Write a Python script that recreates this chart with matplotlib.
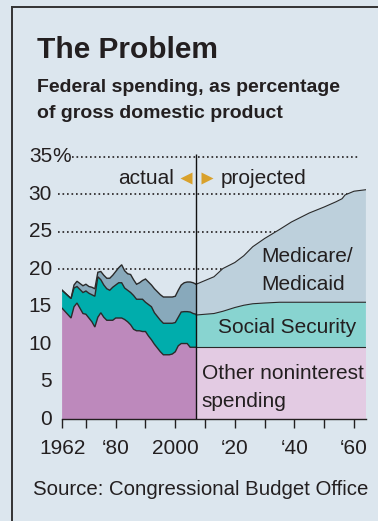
import matplotlib
matplotlib.use("Agg")
import matplotlib.pyplot as plt
import numpy as np
from matplotlib.lines import Line2D

plt.rcParams['font.family'] = ['Liberation Sans', 'DejaVu Sans']

# ---------------- data ----------------
actual_years = [1962, 1965, 1966, 1967, 1968, 1969, 1970, 1971, 1972, 1973, 1974,
                1975, 1976, 1977, 1978, 1979, 1980, 1981, 1982, 1983, 1984, 1985,
                1986, 1987, 1988, 1989, 1990, 1991, 1992, 1993, 1994, 1995, 1996,
                1997, 1998, 1999, 2000, 2001, 2002, 2003, 2004, 2005, 2006, 2007]
actual_other = [14.8, 13.5, 15.0, 15.5, 14.8, 14.1, 14.0, 13.5, 13.0, 12.3, 13.6,
                14.2, 13.6, 13.2, 13.2, 13.2, 13.5, 13.5, 13.5, 13.3, 13.0, 12.6,
                12.0, 11.8, 11.8, 11.7, 11.7, 11.1, 10.6, 10.0, 9.5, 9.0, 8.6,
                8.6, 8.6, 8.7, 9.0, 9.8, 10.1, 10.1, 10.1, 9.6, 9.6, 9.6]
actual_ss = [2.4, 2.6, 2.5, 2.2, 2.5, 2.8, 3.1, 3.3, 3.6, 4.1, 5.4,
             4.4, 4.3, 4.2, 4.0, 4.4, 4.4, 4.7, 4.7, 4.2, 4.2, 4.3,
             4.5, 4.2, 4.2, 4.3, 3.9, 4.2, 4.4, 4.2, 4.2, 4.2, 4.2,
             4.2, 4.2, 4.1, 3.9, 3.8, 4.2, 4.25, 4.25, 4.7, 4.5, 4.4]
actual_health = [0.0, 0.0, 0.4, 0.7, 0.8, 0.9, 0.9, 0.9, 1.0, 1.0, 0.6,
                 1.1, 1.3, 1.4, 1.6, 1.6, 1.8, 2.0, 2.4, 2.3, 2.2, 2.4,
                 2.1, 2.0, 2.2, 2.5, 3.1, 3.0, 2.9, 3.2, 3.3, 3.4, 3.5,
                 3.5, 3.5, 3.5, 3.5, 3.6, 3.6, 3.85, 3.95, 4.0, 4.1, 4.0]

proj_years = [2007, 2010, 2013, 2016, 2020, 2023, 2026, 2030, 2035, 2039, 2045,
              2050, 2054, 2056, 2057, 2060, 2064]
proj_other = [9.6] * 17
proj_ss = [4.3, 4.4, 4.5, 4.8, 5.3, 5.6, 5.8, 5.9, 6.0, 6.0, 6.0,
           6.0, 6.0, 6.0, 6.0, 6.0, 6.0]
proj_health = [4.1, 4.5, 4.9, 5.7, 6.0, 6.6, 7.6, 8.6, 9.7, 10.7, 11.9,
               12.7, 13.4, 13.8, 14.3, 14.8, 15.0]

y_ticks = [0, 5, 10, 15, 20, 25, 30, 35]
grid_levels = [20, 25, 30, 35]
x_ticks = [1962, 1970, 1980, 1990, 2000, 2010, 2020, 2030, 2040, 2050, 2060]
x_labels = ['1962', '', '\u201880', '', '2000', '', '\u201820', '', '\u201840', '', '\u201860']
split_year = 2007

# ---------------- style ----------------
BG = '#dce6ee'
TXT = '#231f20'
C_OTHER, C_SS, C_HEALTH = '#bd89bc', '#00adac', '#88a9bb'
L_OTHER, L_SS, L_HEALTH = '#e3cbe3', '#88d4d0', '#bdd0dc'
GOLD = '#d9a12b'
EDGE = '#2a2a2a'

W, H = 378, 521
fig = plt.figure(figsize=(W / 100, H / 100), dpi=100)
fig.patch.set_facecolor(BG)

# frame lines (left and top)
fig.add_artist(Line2D([12 / W, 12 / W], [0, 1 - 7 / H], color='#333333', lw=1.4,
                      transform=fig.transFigure))
fig.add_artist(Line2D([12 / W, 1], [1 - 7 / H, 1 - 7 / H], color='#333333', lw=1.4,
                      transform=fig.transFigure))

ax_left, ax_right = 62.1, 365.9
ax_bottom, ax_top = 419.3, 156.7
ax = fig.add_axes([ax_left / W, 1 - ax_bottom / H, (ax_right - ax_left) / W,
                   (ax_bottom - ax_top) / H])
ax.set_facecolor('none')
ax.set_xlim(1962, 2064)
ax.set_ylim(0, 35)

px_per_year = (ax_right - ax_left) / (2064 - 1962)

# gridlines (behind areas)
for g in grid_levels:
    x0 = 1962 - 4.1 / px_per_year if g != 35 else 1962 + 10 / px_per_year
    ax.hlines(g, x0, 2062, colors=TXT, linestyles=(0, (1, 1.7)), lw=1.2,
              clip_on=False, zorder=1)

# actual stack
ax.stackplot(actual_years, actual_other, actual_ss, actual_health,
             colors=[C_OTHER, C_SS, C_HEALTH], lw=0, zorder=2)
a_o = np.array(actual_other)
a_s = a_o + np.array(actual_ss)
a_h = a_s + np.array(actual_health)
for top in (a_o, a_s, a_h):
    ax.plot(actual_years, top, color=EDGE, lw=1.0, zorder=3, solid_joinstyle='miter')

# projected stack
ax.stackplot(proj_years, proj_other, proj_ss, proj_health,
             colors=[L_OTHER, L_SS, L_HEALTH], lw=0, zorder=2)
p_o = np.array(proj_other)
p_s = p_o + np.array(proj_ss)
p_h = p_s + np.array(proj_health)
for top in (p_o, p_s, p_h):
    ax.plot(proj_years, top, color=EDGE, lw=0.8, zorder=3)

# divider
ax.vlines(split_year, 0, 35.4, colors='#111111', lw=1.0, zorder=4, clip_on=False)

# axes styling
for s in ('top', 'right', 'left'):
    ax.spines[s].set_visible(False)
ax.spines['bottom'].set_color(TXT)
ax.spines['bottom'].set_linewidth(1.0)
ax.spines['bottom'].set_zorder(5)
ax.set_yticks([])
ax.set_xticks(x_ticks)
ax.set_xticklabels(x_labels, fontsize=15, color=TXT)
ax.tick_params(axis='x', direction='out', length=6.5, width=1.0, color=TXT, pad=7.5)

# y labels
ylab_x = 1962 - 10.1 / px_per_year
for v in y_ticks:
    ax.text(ylab_x, v, str(v), ha='right', va='center', fontsize=15, color=TXT,
            clip_on=False)
ax.text(ylab_x, 35, '%', ha='left', va='center', fontsize=15, color=TXT, clip_on=False)

# annotations
ax.text(1999.6, 31.3, 'actual', ha='right', va='baseline', fontsize=15, color=TXT)
ax.plot([2003.6], [32.1], marker='<', ms=8.5, color=GOLD, mec='none', clip_on=False)
ax.plot([2010.6], [32.1], marker='>', ms=8.5, color=GOLD, mec='none', clip_on=False)
ax.text(2015.3, 31.3, 'projected', ha='left', va='baseline', fontsize=15, color=TXT)

ax.text(2028.7, 21.0, 'Medicare/', ha='left', va='baseline', fontsize=15, color=TXT, zorder=6)
ax.text(2028.7, 17.3, 'Medicaid', ha='left', va='baseline', fontsize=15, color=TXT, zorder=6)
ax.text(2014.2, 11.5, 'Social Security', ha='left', va='baseline', fontsize=15, color=TXT, zorder=6)
ax.text(2008.9, 5.35, 'Other noninterest', ha='left', va='baseline', fontsize=15, color=TXT, zorder=6)
ax.text(2008.9, 1.7, 'spending', ha='left', va='baseline', fontsize=15, color=TXT, zorder=6)

# titles and source
fig.text(37 / W, 1 - 58 / H, 'The Problem', fontsize=21.5, fontweight='bold',
         color=TXT, ha='left', va='baseline')
fig.text(37 / W, 1 - 91.7 / H, 'Federal spending, as percentage', fontsize=14,
         fontweight='bold', color=TXT, ha='left', va='baseline')
fig.text(37 / W, 1 - 118.3 / H, 'of gross domestic product', fontsize=14,
         fontweight='bold', color=TXT, ha='left', va='baseline')
fig.text(33 / W, 1 - 495 / H, 'Source: Congressional Budget Office', fontsize=14.7,
         color=TXT, ha='left', va='baseline')

fig.savefig('out.png', dpi=100, facecolor=BG)
